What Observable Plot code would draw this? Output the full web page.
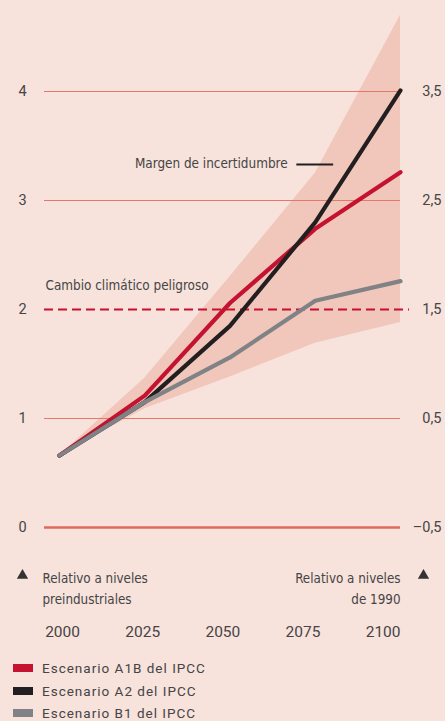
<!DOCTYPE html>
<html>
<head>
<meta charset="utf-8">
<script src="https://cdn.jsdelivr.net/npm/d3@7"></script>
<script src="https://cdn.jsdelivr.net/npm/@observablehq/plot@0.6"></script>
<style>
  html, body { margin: 0; padding: 0; background: #f7e2dc; }
  body { width: 445px; height: 721px; overflow: hidden; font-family: Roboto, "Liberation Sans", sans-serif; color: #454545; }
  #legend { margin-top: 7px; }
  .row { display: flex; align-items: center; height: 22.5px; }
  .sw { width: 20px; height: 8px; margin-left: 13px; margin-right: 9px; }
  .lab { font-size: 13.5px; letter-spacing: 1px; }
</style>
</head>
<body>
<div id="chart"></div>
<div id="legend"></div>
<script>
// ---- data ----
const years = [2000, 2025, 2050, 2075, 2100];
const a1b = [0.66, 1.21, 2.06, 2.74, 3.26];
const a2  = [0.66, 1.15, 1.85, 2.80, 4.01];
const b1  = [0.66, 1.15, 1.56, 2.08, 2.26];
const bandLow  = [0.66, 1.09, 1.38, 1.69, 1.88];
const bandHigh = [0.66, 1.37, 2.30, 3.25, 4.70];
const leftTicks = [0, 1, 2, 3, 4];
const rightTicks = [-0.5, 0.5, 1.5, 2.5, 3.5]; // relative to 1990 = preindustrial - 0.5
const dangerLevel = 2;
const seriesNames = ["Escenario A1B del IPCC", "Escenario A2 del IPCC", "Escenario B1 del IPCC"];
const seriesColors = ["#c41230", "#231f20", "#808285"];

const fmtComma = v => (v < 0 ? "\u2013" : "") + Math.abs(v).toString().replace(".", ",");

const band = years.map((y, i) => ({year: y, lo: bandLow[i], hi: bandHigh[i]}));
const lines = [];
[a1b, a2, b1].forEach((arr, s) => years.forEach((y, i) => lines.push({series: seriesNames[s], year: y, value: arr[i]})));

const condFont = '"Liberation Sans Narrow", "DejaVu Sans Condensed", Roboto, sans-serif';

const chart = Plot.plot({
  width: 445,
  height: 650,
  marginLeft: 44,
  marginRight: 45,
  marginTop: 10,
  marginBottom: 30,
  style: {background: "transparent", fontFamily: "Roboto, sans-serif", color: "#454545", fontSize: "14px"},
  x: {domain: [2000, 2100], range: [59, 400], axis: null},
  y: {domain: [0, 4], range: [527, 91], axis: null},
  color: {domain: seriesNames, range: seriesColors},
  marks: [
    Plot.areaY(band, {x: "year", y1: "lo", y2: "hi", fill: "#f0c7ba"}),
    Plot.ruleY(leftTicks.filter(d => d !== 0 && d !== dangerLevel), {stroke: "#e5786b", strokeWidth: 1.2}),
    Plot.ruleY([0], {stroke: "#e06a5c", strokeWidth: 2.5}),
    Plot.ruleY([dangerLevel], {stroke: "#c8102e", strokeWidth: 2, strokeDasharray: "9,5", insetRight: -9}),
    Plot.line(lines, {x: "year", y: "value", z: "series", stroke: "series", strokeWidth: 4.2, strokeLinejoin: "miter"}),
    Plot.axisY(leftTicks, {anchor: "left", tickSize: 0, tickPadding: 22, textAnchor: "middle", fontSize: 14.5, tickFormat: d => d}),
    Plot.axisY(rightTicks.map(v => v + 0.5), {anchor: "right", tickSize: 0, tickPadding: 41, textAnchor: "end", fontSize: 14.5, tickFormat: v => fmtComma(v - 0.5)}),
    // year labels (slightly compressed as in the original layout)
    Plot.text(years, {x: d => 2000 + (d - 2000) * 0.94 + 0.9, frameAnchor: "bottom", dy: 16, text: d => String(d), fontSize: 15.5}),
    // annotations
    Plot.text(["Cambio climático peligroso"], {frameAnchor: "left", y: [2.22], dx: 1, textAnchor: "start", fontSize: 13.4, fontFamily: condFont}),
    Plot.text(["Margen de incertidumbre"], {x: [2066.9], y: [3.34], textAnchor: "end", fontSize: 13.4, fontFamily: condFont}),
    Plot.ruleY([3.33], {x1: 2069.6, x2: 2080.4, stroke: "#231f20", strokeWidth: 2}),
    Plot.dot([0], {frameAnchor: "bottom-left", dx: -22, dy: -45, symbol: "triangle", r: 4.2, fill: "#333", stroke: null}),
    Plot.text(["Relativo a niveles\npreindustriales"], {frameAnchor: "bottom-left", dx: -2, dy: -53, textAnchor: "start", lineAnchor: "top", lineHeight: 1.62, fontSize: 13.3, fontFamily: condFont}),
    Plot.text(["Relativo a niveles\nde 1990"], {frameAnchor: "bottom-right", dy: -53, textAnchor: "end", lineAnchor: "top", lineHeight: 1.62, fontSize: 13.3, fontFamily: condFont}),
    Plot.dot([0], {frameAnchor: "bottom-right", dx: 23, dy: -45, symbol: "triangle", r: 4.2, fill: "#333", stroke: null})
  ]
});
document.getElementById("chart").appendChild(chart);

const legend = document.getElementById("legend");
seriesNames.forEach((n, i) => {
  const row = document.createElement("div");
  row.className = "row";
  row.innerHTML = `<span class="sw" style="background:${seriesColors[i]}"></span><span class="lab">${n}</span>`;
  legend.appendChild(row);
});
</script>
</body>
</html>
